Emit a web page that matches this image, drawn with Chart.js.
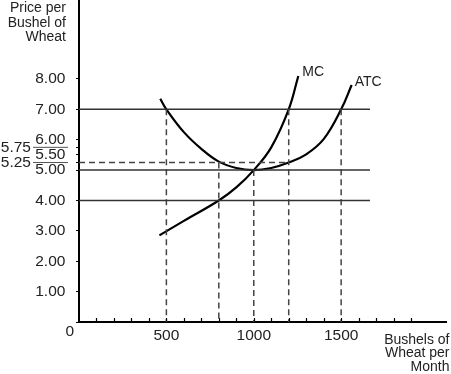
<!DOCTYPE html>
<html><head><meta charset="utf-8">
<script src="https://cdn.jsdelivr.net/npm/chart.js@4.4.1/dist/chart.umd.min.js"></script>
<style>html,body{margin:0;padding:0;background:#fff;}canvas{display:block;}</style>
</head><body>
<canvas id="c" width="451" height="374"></canvas>
<script>
// ---- data ----
const mcQuantity  = [460, 600, 800, 900, 1000, 1100, 1200, 1255];
const mcPrice     = [2.85, 3.33, 4.0, 4.43, 5.0, 5.75, 7.0, 8.1];
const atcQuantity = [465, 500, 600, 700, 800, 900, 1000, 1100, 1200, 1300, 1400, 1500, 1560];
const atcPrice    = [7.35, 7.0, 6.25, 5.7, 5.28, 5.07, 5.0, 5.07, 5.25, 5.52, 6.02, 7.0, 7.8];
const priceLevels = [7.0, 5.0, 4.0];
const priceLevelEnd = 1665;
const dropQuantity = [500, 800, 1000, 1200, 1500];
const dropTop      = [7.0, 5.25, 5.0, 7.0, 7.0];
const avgCostLevel = 5.25;
const avgCostLevelEnd = 1200;
const yTickValues = [0, 1, 2, 3, 4, 5, 5.25, 5.5, 5.75, 6, 7, 8];
const yTickLabels = ['0', '1.00', '2.00', '3.00', '4.00', '5.00', '5.25', '5.50', '5.75', '6.00', '7.00', '8.00'];
const yOffsetLabels = ['5.25', '5.75'];
const xTickValues = [500, 1000, 1500];
const xTickLabels = ['500', '1000', '1500'];
const xMinorTicks = [100,200,300,400,500,600,700,800,900,1000,1100,1200,1300,1400,1500,1600,1700,1800,1900];
const yTitle = ['Price per', 'Bushel of', 'Wheat'];
const xTitle = ['Bushels of', 'Wheat per', 'Month'];
const curveNames = ['MC', 'ATC'];

// ---- chart ----
const FONT = 'Liberation Sans, Arial, Helvetica, sans-serif';
const datasets = [];
priceLevels.forEach(p => datasets.push({
  data: [{x: 0, y: p}, {x: priceLevelEnd, y: p}],
  borderColor: '#333', borderWidth: 1.5, pointRadius: 0, tension: 0
}));
dropQuantity.forEach((q, i) => datasets.push({
  data: [{x: q, y: dropTop[i]}, {x: q, y: 0}],
  borderColor: '#444', borderWidth: 1.5, borderDash: [6, 4], pointRadius: 0, tension: 0
}));
datasets.push({
  data: [{x: 0, y: avgCostLevel}, {x: avgCostLevelEnd, y: avgCostLevel}],
  borderColor: '#444', borderWidth: 1.5, borderDash: [6, 4], pointRadius: 0, tension: 0
});
datasets.push({
  label: curveNames[0],
  data: mcQuantity.map((q, i) => ({x: q, y: mcPrice[i]})),
  borderColor: '#000', borderWidth: 2.2, pointRadius: 0, tension: 0.4
});
datasets.push({
  label: curveNames[1],
  data: atcQuantity.map((q, i) => ({x: q, y: atcPrice[i]})),
  borderColor: '#000', borderWidth: 2.2, pointRadius: 0, tension: 0.4
});

const decor = {
  id: 'decor',
  afterDraw(chart) {
    const ctx = chart.ctx, xs = chart.scales.x, ys = chart.scales.y, ca = chart.chartArea;
    ctx.save();
    // minor ticks on the quantity axis (pointing up)
    ctx.strokeStyle = '#000'; ctx.lineWidth = 1.2;
    xMinorTicks.forEach(q => {
      const px = Math.round(xs.getPixelForValue(q)) + 0.5;
      ctx.beginPath(); ctx.moveTo(px, ca.bottom - 1); ctx.lineTo(px, ca.bottom - 4); ctx.stroke();
    });
    // leader lines for the offset labels
    ctx.strokeStyle = '#555'; ctx.lineWidth = 1;
    yOffsetLabels.forEach(l => {
      const py = ys.getPixelForValue(parseFloat(l));
      ctx.beginPath(); ctx.moveTo(ca.left - 46, py); ctx.lineTo(ca.left - 11, py); ctx.stroke();
    });
    // axis titles
    ctx.fillStyle = '#222';
    ctx.font = '14px ' + FONT;
    ctx.textAlign = 'right'; ctx.textBaseline = 'alphabetic';
    yTitle.forEach((t, i) => ctx.fillText(t, 66, 12 + i * 14.5));
    xTitle.forEach((t, i) => ctx.fillText(t, 449.5, 343.5 + i * 13.5));
    // curve names
    ctx.textAlign = 'left';
    const mcEnd = mcQuantity.length - 1, atcEnd = atcQuantity.length - 1;
    ctx.fillText(curveNames[0], xs.getPixelForValue(mcQuantity[mcEnd]) + 4, ys.getPixelForValue(mcPrice[mcEnd]) + 0.5);
    ctx.fillText(curveNames[1], xs.getPixelForValue(atcQuantity[atcEnd]) + 3, ys.getPixelForValue(atcPrice[atcEnd]) + 0.5);
    ctx.restore();
  }
};

new Chart(document.getElementById('c'), {
  type: 'line',
  data: { datasets },
  plugins: [decor],
  options: {
    responsive: false, animation: false, devicePixelRatio: 1,
    layout: { padding: { left: 0, right: 5, top: 0, bottom: 0 } },
    plugins: { legend: { display: false }, tooltip: { enabled: false } },
    scales: {
      x: {
        type: 'linear', min: 0, max: 2100,
        afterBuildTicks(s) { s.ticks = xTickValues.map(v => ({ value: v })); },
        afterFit(s) { s.height = 52; s.paddingLeft = 0; s.paddingRight = 0; s.paddingTop = 0; s.paddingBottom = 0; },
        ticks: {
          autoSkip: false, maxRotation: 0, padding: 4, color: '#222',
          font: { family: FONT, size: 15.5 },
          callback: (v, i) => xTickLabels[i]
        },
        grid: { display: false, drawTicks: false },
        border: { display: true, color: '#000', width: 2 }
      },
      y: {
        type: 'linear', min: 0, max: 10.6,
        afterBuildTicks(s) { s.ticks = yTickValues.map(v => ({ value: v })); },
        afterFit(s) { s.width = 79; s.paddingLeft = 0; s.paddingRight = 0; s.paddingTop = 0; s.paddingBottom = 0; },
        ticks: {
          autoSkip: false, padding: 2, color: '#222',
          font: { family: FONT, size: 15.5 },
          callback: (v, i) => {
            const l = yTickLabels[i];
            if (i === 0) return ['', l];
            if (yOffsetLabels.includes(l)) return l + '          ';
            return l + '  ';
          }
        },
        grid: { drawOnChartArea: false, drawTicks: true, tickLength: 3, tickColor: '#000', tickWidth: 1.2 },
        border: { display: true, color: '#000', width: 2 }
      }
    }
  }
});
</script>
</body></html>
